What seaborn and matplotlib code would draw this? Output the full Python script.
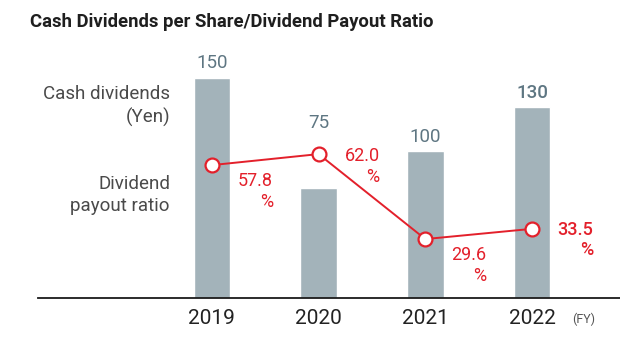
import numpy as np
import pandas as pd
import matplotlib
matplotlib.use("Agg")
import matplotlib.pyplot as plt
import seaborn as sns

# Data
years = ["2019", "2020", "2021", "2022"]
dividends = [150, 75, 100, 130]          # yen per share
payout_ratio = [57.8, 62.0, 29.6, 33.5]  # percent

BAR = "#a3b3ba"
BAR_TXT = "#5e7682"
RED = "#e3202b"
DARK = "#222222"
GREY = "#4a4a4a"

sns.set_theme(style="white")
plt.rcParams["font.family"] = ["Roboto", "DejaVu Sans"]

df = pd.DataFrame({"year": years, "div": dividends, "ratio": payout_ratio})

fig = plt.figure(figsize=(6.2, 3.38), dpi=100)
W, H = 620, 338
ax = fig.add_axes([38 / W, 1 - 298 / H, (620 - 38) / W, (298 - 40) / H])

sns.barplot(data=df, x="year", y="div", order=years, color=BAR, width=0.345,
            saturation=1, ax=ax, zorder=2)
ax.set_xlim(-1.63, 3.825)
ax.set_ylim(0, 175.9)

# the latest fiscal year is emphasised with a heavier weight
weights = ["normal", "normal", "normal", "medium"]

# value labels above the bars (the 2020 one sits above the ratio marker)
bar_label_offsets = [4, 40, 4, 4]
for i, (v, dy) in enumerate(zip(dividends, bar_label_offsets)):
    ax.annotate(f"{v}", (i, v), xytext=(0, dy), textcoords="offset points",
                ha="center", va="bottom", fontsize=13.5, color=BAR_TXT,
                fontweight=weights[i])

ax2 = ax.twinx()
sns.lineplot(x=np.arange(len(years)), y=payout_ratio, ax=ax2, color=RED,
             linewidth=1.4, marker="o", markersize=10, markerfacecolor="white",
             markeredgecolor=RED, markeredgewidth=1.6, zorder=5)
ax2.set_ylim(7.13, 105.5)
ax2.set_xlim(-1.63, 3.825)

label_offsets = [(44, -5), (44, 5), (44, -5), (44, 6)]
for i, (v, off) in enumerate(zip(payout_ratio, label_offsets)):
    ax2.annotate(f"{v:.1f}\n%", (i, v), xytext=off, textcoords="offset points",
                 ha="right", va="top", fontsize=13, color=RED,
                 multialignment="right", linespacing=1.2,
                 fontweight=weights[i])

for a in (ax, ax2):
    for s in ("top", "right", "left"):
        a.spines[s].set_visible(False)
    a.set_yticks([])
    a.set_ylabel("")
    a.set_xlabel("")
ax2.spines["bottom"].set_visible(False)
ax.spines["bottom"].set_color("#1a1a1a")
ax.spines["bottom"].set_linewidth(1.3)
ax.tick_params(axis="x", length=0, pad=8, labelsize=15, labelcolor=DARK)
ax2.tick_params(axis="x", length=0, labelbottom=False)

fig.text(30 / W, 1 - 22 / H, "Cash Dividends per Share/Dividend Payout Ratio",
         fontsize=13.3, fontweight="bold", color="#1e1e1e", va="center", ha="left")

fig.text(170 / W, 1 - 106 / H, "Cash dividends\n(Yen)", ha="right", va="center",
         fontsize=13.5, color=GREY, multialignment="right", linespacing=1.3)
fig.text(170 / W, 1 - 195 / H, "Dividend\npayout ratio", ha="right", va="center",
         fontsize=13.5, color=GREY, multialignment="right", linespacing=1.3)
fig.text(584 / W, 1 - 319 / H, "(FY)", ha="center", va="center", fontsize=9,
         color="#555555")

fig.savefig("out.png", dpi=100)
